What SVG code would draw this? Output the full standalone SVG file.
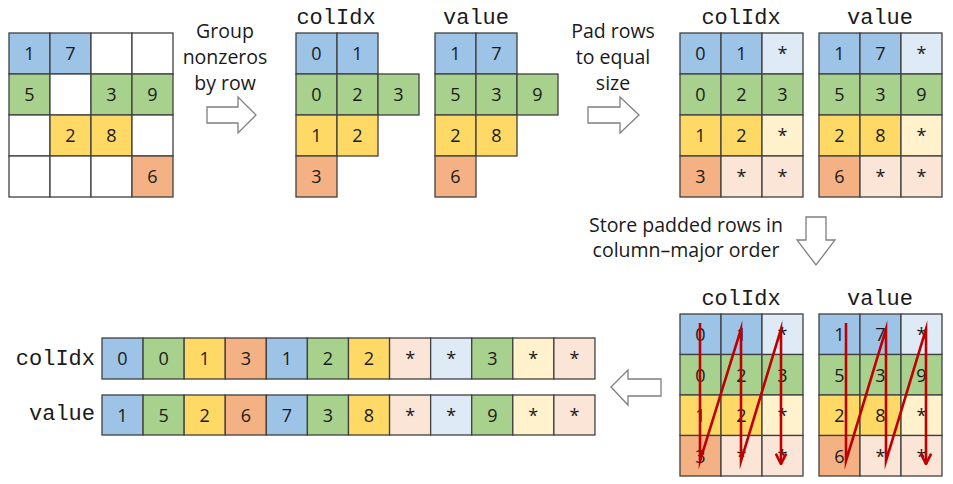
<svg xmlns="http://www.w3.org/2000/svg" width="953" height="484" viewBox="0 0 953 484">
<style>
rect{stroke:#404040;stroke-width:1.3}
.b{fill:#9DC3E6}.g{fill:#A9D18E}.y{fill:#FFD966}.o{fill:#F4B183}
.lb{fill:#DEEBF7}.ly{fill:#FFF2CC}.lo{fill:#FBE5D6}.w{fill:#FFFFFF}
text{font-family:"Open Sans","Liberation Sans",sans-serif;fill:#1a1a1a}
.n{font-size:18px;text-anchor:middle}
.m{font-family:"Liberation Mono","DejaVu Sans Mono",monospace;font-size:22px;text-anchor:middle}
.me{font-family:"Liberation Mono","DejaVu Sans Mono",monospace;font-size:22px;text-anchor:end}
.t{font-size:19.5px;text-anchor:middle}
.ba{fill:#FFFFFF;stroke:#7F7F7F;stroke-width:1.3}
.red{fill:none;stroke:#C00000;stroke-width:2.6;stroke-linejoin:miter;stroke-miterlimit:10}
</style>
<defs>
<marker id="ah" viewBox="0 0 10 10" refX="9" refY="5" markerWidth="5" markerHeight="5" orient="auto" markerUnits="strokeWidth">
<path d="M1,1 L9,5 L1,9" fill="none" stroke="#C00000" stroke-width="2"/>
</marker>
</defs>

<g id="matrix">
<rect class="b" x="9" y="33" width="41" height="41"/><text class="n" x="29.5" y="60">1</text>
<rect class="b" x="50" y="33" width="41" height="41"/><text class="n" x="70.5" y="60">7</text>
<rect class="w" x="91" y="33" width="41" height="41"/>
<rect class="w" x="132" y="33" width="41" height="41"/>
<rect class="g" x="9" y="74" width="41" height="41"/><text class="n" x="29.5" y="101">5</text>
<rect class="w" x="50" y="74" width="41" height="41"/>
<rect class="g" x="91" y="74" width="41" height="41"/><text class="n" x="111.5" y="101">3</text>
<rect class="g" x="132" y="74" width="41" height="41"/><text class="n" x="152.5" y="101">9</text>
<rect class="w" x="9" y="115" width="41" height="41"/>
<rect class="y" x="50" y="115" width="41" height="41"/><text class="n" x="70.5" y="142">2</text>
<rect class="y" x="91" y="115" width="41" height="41"/><text class="n" x="111.5" y="142">8</text>
<rect class="w" x="132" y="115" width="41" height="41"/>
<rect class="w" x="9" y="156" width="41" height="41"/>
<rect class="w" x="50" y="156" width="41" height="41"/>
<rect class="w" x="91" y="156" width="41" height="41"/>
<rect class="o" x="132" y="156" width="41" height="41"/><text class="n" x="152.5" y="183">6</text>
</g>

<g id="step1">
<text class="t" x="225" y="38">Group</text>
<text class="t" x="225" y="64">nonzeros</text>
<text class="t" x="225" y="90">by row</text>
<polygon class="ba" points="207,107 238,107 238,97 256,115 238,133 238,123 207,123"/>
</g>

<g id="colIdx1">
<text class="m" x="336" y="24">colIdx</text>
<rect class="b" x="296" y="33" width="41" height="41"/><text class="n" x="316.5" y="60">0</text>
<rect class="b" x="337" y="33" width="41" height="41"/><text class="n" x="357.5" y="60">1</text>
<rect class="g" x="296" y="74" width="41" height="41"/><text class="n" x="316.5" y="101">0</text>
<rect class="g" x="337" y="74" width="41" height="41"/><text class="n" x="357.5" y="101">2</text>
<rect class="g" x="378" y="74" width="41" height="41"/><text class="n" x="398.5" y="101">3</text>
<rect class="y" x="296" y="115" width="41" height="41"/><text class="n" x="316.5" y="142">1</text>
<rect class="y" x="337" y="115" width="41" height="41"/><text class="n" x="357.5" y="142">2</text>
<rect class="o" x="296" y="156" width="41" height="41"/><text class="n" x="316.5" y="183">3</text>
</g>

<g id="value1">
<text class="m" x="476" y="24">value</text>
<rect class="b" x="435" y="33" width="41" height="41"/><text class="n" x="455.5" y="60">1</text>
<rect class="b" x="476" y="33" width="41" height="41"/><text class="n" x="496.5" y="60">7</text>
<rect class="g" x="435" y="74" width="41" height="41"/><text class="n" x="455.5" y="101">5</text>
<rect class="g" x="476" y="74" width="41" height="41"/><text class="n" x="496.5" y="101">3</text>
<rect class="g" x="517" y="74" width="41" height="41"/><text class="n" x="537.5" y="101">9</text>
<rect class="y" x="435" y="115" width="41" height="41"/><text class="n" x="455.5" y="142">2</text>
<rect class="y" x="476" y="115" width="41" height="41"/><text class="n" x="496.5" y="142">8</text>
<rect class="o" x="435" y="156" width="41" height="41"/><text class="n" x="455.5" y="183">6</text>
</g>

<g id="step2">
<text class="t" x="613" y="38">Pad rows</text>
<text class="t" x="613" y="64">to equal</text>
<text class="t" x="613" y="90">size</text>
<polygon class="ba" points="588,107 620,107 620,97 639,115 620,133 620,123 588,123"/>
</g>

<g id="colIdx2">
<text class="m" x="741" y="24">colIdx</text>
<rect class="b" x="680" y="33" width="41" height="41"/><text class="n" x="700.5" y="60">0</text>
<rect class="b" x="721" y="33" width="41" height="41"/><text class="n" x="741.5" y="60">1</text>
<rect class="lb" x="762" y="33" width="41" height="41"/><text class="n" x="782.5" y="60">*</text>
<rect class="g" x="680" y="74" width="41" height="41"/><text class="n" x="700.5" y="101">0</text>
<rect class="g" x="721" y="74" width="41" height="41"/><text class="n" x="741.5" y="101">2</text>
<rect class="g" x="762" y="74" width="41" height="41"/><text class="n" x="782.5" y="101">3</text>
<rect class="y" x="680" y="115" width="41" height="41"/><text class="n" x="700.5" y="142">1</text>
<rect class="y" x="721" y="115" width="41" height="41"/><text class="n" x="741.5" y="142">2</text>
<rect class="ly" x="762" y="115" width="41" height="41"/><text class="n" x="782.5" y="142">*</text>
<rect class="o" x="680" y="156" width="41" height="41"/><text class="n" x="700.5" y="183">3</text>
<rect class="lo" x="721" y="156" width="41" height="41"/><text class="n" x="741.5" y="183">*</text>
<rect class="lo" x="762" y="156" width="41" height="41"/><text class="n" x="782.5" y="183">*</text>
</g>

<g id="value2">
<text class="m" x="880" y="24">value</text>
<rect class="b" x="819" y="33" width="41" height="41"/><text class="n" x="839.5" y="60">1</text>
<rect class="b" x="860" y="33" width="41" height="41"/><text class="n" x="880.5" y="60">7</text>
<rect class="lb" x="901" y="33" width="41" height="41"/><text class="n" x="921.5" y="60">*</text>
<rect class="g" x="819" y="74" width="41" height="41"/><text class="n" x="839.5" y="101">5</text>
<rect class="g" x="860" y="74" width="41" height="41"/><text class="n" x="880.5" y="101">3</text>
<rect class="g" x="901" y="74" width="41" height="41"/><text class="n" x="921.5" y="101">9</text>
<rect class="y" x="819" y="115" width="41" height="41"/><text class="n" x="839.5" y="142">2</text>
<rect class="y" x="860" y="115" width="41" height="41"/><text class="n" x="880.5" y="142">8</text>
<rect class="ly" x="901" y="115" width="41" height="41"/><text class="n" x="921.5" y="142">*</text>
<rect class="o" x="819" y="156" width="41" height="41"/><text class="n" x="839.5" y="183">6</text>
<rect class="lo" x="860" y="156" width="41" height="41"/><text class="n" x="880.5" y="183">*</text>
<rect class="lo" x="901" y="156" width="41" height="41"/><text class="n" x="921.5" y="183">*</text>
</g>

<g id="step3">
<text class="t" x="686" y="232">Store padded rows in</text>
<text class="t" x="686" y="257">column–major order</text>
<polygon class="ba" points="806,217 826,217 826,240 835,240 816,265 797,240 806,240"/>
</g>

<g id="colIdx3">
<text class="m" x="741" y="305">colIdx</text>
<rect class="b" x="680" y="314" width="41" height="40.5"/><text class="n" x="700.5" y="341">0</text>
<rect class="b" x="721" y="314" width="41" height="40.5"/><text class="n" x="741.5" y="341">1</text>
<rect class="lb" x="762" y="314" width="41" height="40.5"/><text class="n" x="782.5" y="341">*</text>
<rect class="g" x="680" y="354.5" width="41" height="40.5"/><text class="n" x="700.5" y="381.5">0</text>
<rect class="g" x="721" y="354.5" width="41" height="40.5"/><text class="n" x="741.5" y="381.5">2</text>
<rect class="g" x="762" y="354.5" width="41" height="40.5"/><text class="n" x="782.5" y="381.5">3</text>
<rect class="y" x="680" y="395" width="41" height="40.5"/><text class="n" x="700.5" y="422">1</text>
<rect class="y" x="721" y="395" width="41" height="40.5"/><text class="n" x="741.5" y="422">2</text>
<rect class="ly" x="762" y="395" width="41" height="40.5"/><text class="n" x="782.5" y="422">*</text>
<rect class="o" x="680" y="435.5" width="41" height="40.5"/><text class="n" x="700.5" y="462.5">3</text>
<rect class="lo" x="721" y="435.5" width="41" height="40.5"/><text class="n" x="741.5" y="462.5">*</text>
<rect class="lo" x="762" y="435.5" width="41" height="40.5"/><text class="n" x="782.5" y="462.5">*</text>
</g>

<g id="value3">
<text class="m" x="880" y="305">value</text>
<rect class="b" x="819" y="314" width="41" height="40.5"/><text class="n" x="839.5" y="341">1</text>
<rect class="b" x="860" y="314" width="41" height="40.5"/><text class="n" x="880.5" y="341">7</text>
<rect class="lb" x="901" y="314" width="41" height="40.5"/><text class="n" x="921.5" y="341">*</text>
<rect class="g" x="819" y="354.5" width="41" height="40.5"/><text class="n" x="839.5" y="381.5">5</text>
<rect class="g" x="860" y="354.5" width="41" height="40.5"/><text class="n" x="880.5" y="381.5">3</text>
<rect class="g" x="901" y="354.5" width="41" height="40.5"/><text class="n" x="921.5" y="381.5">9</text>
<rect class="y" x="819" y="395" width="41" height="40.5"/><text class="n" x="839.5" y="422">2</text>
<rect class="y" x="860" y="395" width="41" height="40.5"/><text class="n" x="880.5" y="422">8</text>
<rect class="ly" x="901" y="395" width="41" height="40.5"/><text class="n" x="921.5" y="422">*</text>
<rect class="o" x="819" y="435.5" width="41" height="40.5"/><text class="n" x="839.5" y="462.5">6</text>
<rect class="lo" x="860" y="435.5" width="41" height="40.5"/><text class="n" x="880.5" y="462.5">*</text>
<rect class="lo" x="901" y="435.5" width="41" height="40.5"/><text class="n" x="921.5" y="462.5">*</text>
</g>

<g id="step4">
<polygon class="ba" points="611,387 628,370 628,379 661,379 661,396 628,396 628,405"/>
</g>

<g id="flatColIdx">
<text class="me" x="95" y="365">colIdx</text>
<rect class="b" x="102" y="338" width="41.08" height="41"/><text class="n" x="122.5" y="365">0</text>
<rect class="g" x="143.08" y="338" width="41.08" height="41"/><text class="n" x="163.6" y="365">0</text>
<rect class="y" x="184.16" y="338" width="41.08" height="41"/><text class="n" x="204.7" y="365">1</text>
<rect class="o" x="225.24" y="338" width="41.08" height="41"/><text class="n" x="245.8" y="365">3</text>
<rect class="b" x="266.32" y="338" width="41.08" height="41"/><text class="n" x="286.9" y="365">1</text>
<rect class="g" x="307.4" y="338" width="41.08" height="41"/><text class="n" x="327.9" y="365">2</text>
<rect class="y" x="348.48" y="338" width="41.08" height="41"/><text class="n" x="369" y="365">2</text>
<rect class="lo" x="389.56" y="338" width="41.08" height="41"/><text class="n" x="410.1" y="365">*</text>
<rect class="lb" x="430.64" y="338" width="41.08" height="41"/><text class="n" x="451.2" y="365">*</text>
<rect class="g" x="471.72" y="338" width="41.08" height="41"/><text class="n" x="492.3" y="365">3</text>
<rect class="ly" x="512.8" y="338" width="41.08" height="41"/><text class="n" x="533.3" y="365">*</text>
<rect class="lo" x="553.88" y="338" width="41.08" height="41"/><text class="n" x="574.4" y="365">*</text>
</g>

<g id="flatValue">
<text class="me" x="95" y="420">value</text>
<rect class="b" x="102" y="395" width="41.08" height="40"/><text class="n" x="122.5" y="421.5">1</text>
<rect class="g" x="143.08" y="395" width="41.08" height="40"/><text class="n" x="163.6" y="421.5">5</text>
<rect class="y" x="184.16" y="395" width="41.08" height="40"/><text class="n" x="204.7" y="421.5">2</text>
<rect class="o" x="225.24" y="395" width="41.08" height="40"/><text class="n" x="245.8" y="421.5">6</text>
<rect class="b" x="266.32" y="395" width="41.08" height="40"/><text class="n" x="286.9" y="421.5">7</text>
<rect class="g" x="307.4" y="395" width="41.08" height="40"/><text class="n" x="327.9" y="421.5">3</text>
<rect class="y" x="348.48" y="395" width="41.08" height="40"/><text class="n" x="369" y="421.5">8</text>
<rect class="lo" x="389.56" y="395" width="41.08" height="40"/><text class="n" x="410.1" y="421.5">*</text>
<rect class="lb" x="430.64" y="395" width="41.08" height="40"/><text class="n" x="451.2" y="421.5">*</text>
<rect class="g" x="471.72" y="395" width="41.08" height="40"/><text class="n" x="492.3" y="421.5">9</text>
<rect class="ly" x="512.8" y="395" width="41.08" height="40"/><text class="n" x="533.3" y="421.5">*</text>
<rect class="lo" x="553.88" y="395" width="41.08" height="40"/><text class="n" x="574.4" y="421.5">*</text>
</g>

<g id="connectors">
<path class="red" d="M700,323 L700,461 L741,329 L741,461 L781,329 L781,464" marker-end="url(#ah)"/>
<path class="red" d="M846,323 L846,461 L886,329 L886,461 L926,329 L926,464" marker-end="url(#ah)"/>
</g>
</svg>
